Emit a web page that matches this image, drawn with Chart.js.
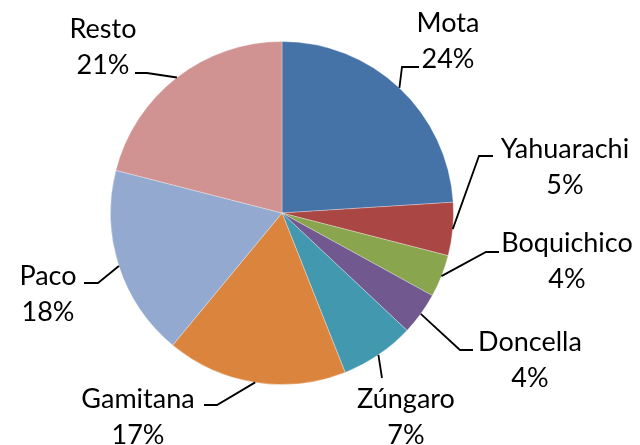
<!DOCTYPE html>
<html>
<head>
<meta charset="utf-8">
<script src="https://cdn.jsdelivr.net/npm/chart.js@4"></script>
<style>
  html, body { margin: 0; padding: 0; background: #fff; }
  #wrap { width: 640px; height: 445px; }
</style>
</head>
<body>
<div id="wrap"><canvas id="pieChart"></canvas></div>
<script>
const species = ["Mota", "Yahuarachi", "Boquichico", "Doncella", "Zúngaro", "Gamitana", "Paco", "Resto"];
const shares = [24, 5, 4, 4, 7, 17, 18, 21];
const colors = ["#4572A7", "#AA4643", "#89A54E", "#71588F", "#4198AF", "#DB843D", "#93A9CF", "#D19392"];

// label layout: [text center x, first-line baseline y]
const labelPos = [[448, 32], [565, 158], [567, 252], [530, 351], [406, 408], [138, 408], [48, 285], [103, 38]];
// leader elbow [x, y] and end x of the short horizontal piece
const leaderPos = [[402, 67, 419], [479, 156, 493], [486, 252, 499], [460, 350, 473],
                   [382, 378, 382], [217, 405, 204], [98, 283, 84], [147, 73, 135]];

const FONT = "27px Lato";
const LINE_GAP = 36;

const pieLabels = {
  id: "pieLabels",
  afterDatasetsDraw(chart) {
    const ctx = chart.ctx;
    const arcs = chart.getDatasetMeta(0).data;
    ctx.save();
    ctx.strokeStyle = "#000";
    ctx.lineWidth = 1.8;
    arcs.forEach((arc, i) => {
      const mid = (arc.startAngle + arc.endAngle) / 2;
      const sx = arc.x + Math.cos(mid) * arc.outerRadius;
      const sy = arc.y + Math.sin(mid) * arc.outerRadius;
      const [ex, ey, endX] = leaderPos[i];
      ctx.beginPath();
      ctx.moveTo(sx, sy);
      ctx.lineTo(ex, ey);
      ctx.lineTo(endX, ey);
      ctx.stroke();
    });
    ctx.fillStyle = "#000";
    ctx.font = FONT;
    ctx.textAlign = "center";
    ctx.textBaseline = "alphabetic";
    species.forEach((name, i) => {
      const [x, y] = labelPos[i];
      ctx.fillText(name, x, y);
      ctx.fillText(shares[i] + "%", x, y + LINE_GAP);
    });
    ctx.restore();
  }
};

new Chart(document.getElementById("pieChart").getContext("2d"), {
  type: "pie",
  data: {
    labels: species,
    datasets: [{
      data: shares,
      backgroundColor: colors,
      borderColor: "rgba(255,255,255,0.3)",
      borderWidth: 1
    }]
  },
  options: {
    responsive: true,
    maintainAspectRatio: false,
    animation: false,
    layout: {
      padding: { left: 110, right: 186, top: 41, bottom: 60 }
    },
    plugins: {
      legend: { display: false },
      tooltip: { enabled: false }
    }
  },
  plugins: [pieLabels]
});
</script>
</body>
</html>
